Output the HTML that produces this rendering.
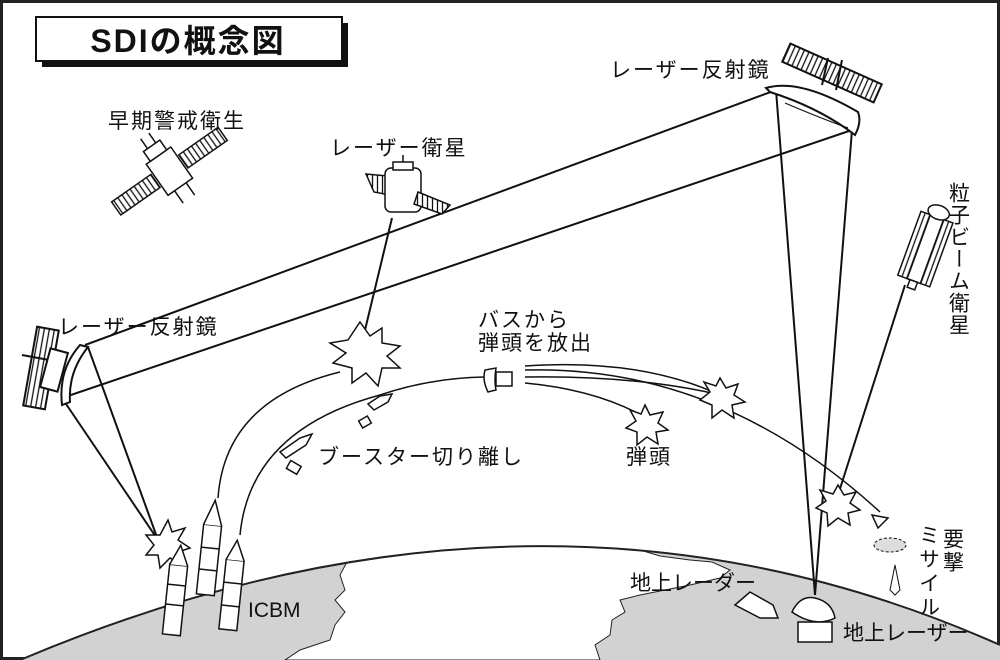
<!DOCTYPE html>
<html><head><meta charset="utf-8"><style>
html,body{margin:0;padding:0;background:#fff}
svg{display:block}
text{font-family:"Liberation Sans","Noto Sans CJK JP",sans-serif;fill:#111}
</style></head><body>
<svg width="1000" height="660" viewBox="0 0 1000 660" xmlns="http://www.w3.org/2000/svg">
<defs>
<clipPath id="earth"><path d="M20,660 Q540,440 1000,645 L1000,660 Z"/></clipPath>
<pattern id="hatch" width="5" height="10" patternUnits="userSpaceOnUse"><rect width="5" height="10" fill="#fff"/><line x1="2.5" y1="0" x2="2.5" y2="10" stroke="#111" stroke-width="1.3"/></pattern>
</defs>
<rect x="1.5" y="1.5" width="997" height="657" fill="#fff" stroke="#222" stroke-width="3"/>
<g clip-path="url(#earth)">
<rect x="0" y="500" width="1000" height="160" fill="#d2d2d2"/>
<path d="M372,540 L360,555 L348,560 L340,575 L345,590 L335,600 L345,612 L335,625 L330,640 L300,650 L285,660 L600,660 L595,645 L610,635 L612,620 L625,612 L620,600 L640,595 L665,590 L690,585 L720,578 L730,570 L712,562 L690,560 L660,556 L640,550 L620,548 L600,545 L560,540 Z" fill="#fff" stroke="#222" stroke-width="1"/>
</g>
<path d="M20,660 Q540,440 1000,645" fill="none" stroke="#222" stroke-width="2"/>
<rect x="42" y="23" width="306" height="44" fill="#111"/>
<rect x="36" y="17" width="306" height="44" fill="#fff" stroke="#111" stroke-width="2"/>
<text x="188" y="52" font-size="32" font-weight="bold" text-anchor="middle" letter-spacing="2">SDIの概念図</text>
<g stroke="#111" stroke-width="2" fill="none">
<line x1="85" y1="345" x2="776" y2="90"/>
<line x1="62" y1="398" x2="852" y2="130"/>
<line x1="62" y1="398" x2="158" y2="540"/>
<line x1="88" y1="347" x2="158" y2="540"/>
<line x1="776" y1="90" x2="815" y2="595"/>
<line x1="852" y1="130" x2="815" y2="595"/>
<line x1="392" y1="218" x2="365" y2="330"/>
<line x1="905" y1="285" x2="838" y2="495"/>
</g>
<g stroke="#111" stroke-width="1.5" fill="none">
<path d="M218,498 Q225,400 340,372"/>
<path d="M240,535 Q250,430 380,395 Q430,378 485,377"/>
<path d="M525,370 Q720,365 880,512"/>
<path d="M525,377 Q650,375 740,400"/>
<path d="M525,383 Q600,390 650,420"/>
<path d="M525,366 Q640,358 720,395"/>
</g>
<g stroke="#111" stroke-width="2" fill="#fff">
<rect x="30" y="328" width="22" height="80" fill="url(#hatch)" transform="rotate(10 41 368)"/>
<line x1="22" y1="355" x2="60" y2="362"/>
<rect x="45" y="350" width="18" height="40" transform="rotate(15 54 370)"/>
<path d="M80,345 Q58,370 62,405 L70,402 Q68,372 88,347 Z"/>
</g>
<g stroke="#111" stroke-width="2" fill="#fff">
<rect x="782" y="63" width="100" height="20" fill="url(#hatch)" transform="rotate(24 832 73)"/>
<line x1="828" y1="58" x2="822" y2="85"/><line x1="842" y1="60" x2="836" y2="90"/>
<path d="M766,88 Q800,78 858,112 Q862,122 855,135 Q820,108 770,92 Z"/>
<path d="M785,103 Q820,118 848,128" fill="none" stroke-width="1.2"/>
</g>
<g transform="rotate(-35 170 172)" stroke="#111" stroke-width="1.5" fill="#fff">
<rect x="105" y="163" width="48" height="16" fill="url(#hatch)"/>
<rect x="187" y="163" width="48" height="16" fill="url(#hatch)"/>
<rect x="155" y="152" width="30" height="38"/>
<rect x="160" y="140" width="20" height="12"/>
<line x1="165" y1="128" x2="165" y2="140"/><line x1="175" y1="128" x2="175" y2="140"/>
<line x1="163" y1="190" x2="163" y2="205"/><line x1="177" y1="190" x2="177" y2="205"/>
</g>
<g stroke="#111" stroke-width="1.5" fill="#fff">
<polygon points="366,174 388,176 390,195 374,192" fill="url(#hatch)"/>
<rect x="385" y="168" width="36" height="44" rx="6"/>
<rect x="393" y="162" width="20" height="8"/>
<line x1="403" y1="155" x2="403" y2="162"/>
<polygon points="418,192 450,205 442,214 414,204" fill="url(#hatch)"/>
</g>
<g transform="rotate(20 925 250)" stroke="#111" stroke-width="1.5" fill="#fff">
<rect x="908" y="215" width="34" height="68" fill="url(#hatch)"/>
<rect x="918" y="215" width="14" height="68"/>
<ellipse cx="925" cy="210" rx="11" ry="7"/>
<rect x="921" y="283" width="8" height="8"/>
</g>
<g stroke="#111" stroke-width="1.5" fill="#fff">
<polygon points="360,322 370,336 382,328 382,343 400,346 387,356 400,368 382,368 378,386 366,373 352,383 352,368 333,363 346,353 330,343 348,340"/>
<polygon points="168,520 172,532 185,528 178,540 190,548 178,552 182,565 170,558 160,568 158,555 146,555 154,545 146,535 160,535"/>
<polygon points="720,378 726,388 738,384 734,395 745,402 732,405 734,418 722,410 712,418 712,405 700,400 710,392 704,382 716,386"/>
<polygon points="645,405 650,415 663,412 658,423 668,430 656,432 658,444 647,437 637,445 637,432 626,428 636,421 630,410 641,414"/>
<polygon points="838,485 844,495 856,492 850,503 860,510 848,513 850,525 838,518 828,526 827,513 816,508 826,501 820,490 833,494"/>
<path d="M485,370 Q482,380 488,392 L496,390 Q494,380 496,368 Z"/>
<rect x="496" y="372" width="16" height="14"/>
<polygon points="368,404 380,396 392,394 388,402 374,410"/>
<polygon points="280,452 300,438 312,434 306,445 286,458"/>
<rect x="360" y="418" width="10" height="8" transform="rotate(-30 365 422)"/>
<rect x="288" y="463" width="12" height="9" transform="rotate(30 294 467)"/>
<polygon points="872,515 888,518 878,528"/>
</g>
<ellipse cx="890" cy="545" rx="16" ry="7" fill="#ddd" stroke="#111" stroke-dasharray="3,2"/>
<path d="M895,565 L900,590 L895,595 L890,590 Z" fill="#fff" stroke="#111"/>
<g stroke="#111" stroke-width="1.5" fill="#fff">
<g transform="rotate(6 175 600)"><rect x="166" y="565" width="18" height="70"/><path d="M166,565 L175,545 L184,565"/><line x1="166" y1="585" x2="184" y2="585"/><line x1="166" y1="605" x2="184" y2="605"/></g>
<g transform="rotate(6 210 550)"><rect x="201" y="525" width="18" height="70"/><path d="M201,525 L210,500 L219,525"/><line x1="201" y1="548" x2="219" y2="548"/><line x1="201" y1="570" x2="219" y2="570"/></g>
<g transform="rotate(6 232 590)"><rect x="223" y="560" width="18" height="70"/><path d="M223,560 L232,540 L241,560"/><line x1="223" y1="583" x2="241" y2="583"/><line x1="223" y1="606" x2="241" y2="606"/></g>
</g>
<g stroke="#111" stroke-width="1.5" fill="#fff">
<polygon points="735,605 750,592 773,605 778,618 760,618"/>
<rect x="798" y="622" width="34" height="20"/>
<path d="M792,612 Q800,595 815,598 Q832,602 835,618 Q815,628 792,612 Z"/>
</g>
<g font-size="21" letter-spacing="2">
<text x="108" y="128">早期警戒衛生</text>
<text x="330" y="155">レーザー衛星</text>
<text x="610" y="77">レーザー反射鏡</text>
<text x="58" y="334">レーザー反射鏡</text>
<text x="478" y="327">バスから</text>
<text x="478" y="350">弾頭を放出</text>
<text x="318" y="464">ブースター切り離し</text>
<text x="626" y="464">弾頭</text>
<text x="630" y="590" letter-spacing="0">地上レーダー</text>
<text x="248" y="617" letter-spacing="0">ICBM</text>
<text x="843" y="640" letter-spacing="0">地上レーザー</text>
<text x="958" y="182" style="writing-mode:vertical-rl" letter-spacing="1">粒子ビーム衛星</text>
<text x="952" y="528" style="writing-mode:vertical-rl">要撃</text>
<text x="928" y="524" style="writing-mode:vertical-rl" letter-spacing="3">ミサイル</text>
</g>
</svg>
</body></html>
